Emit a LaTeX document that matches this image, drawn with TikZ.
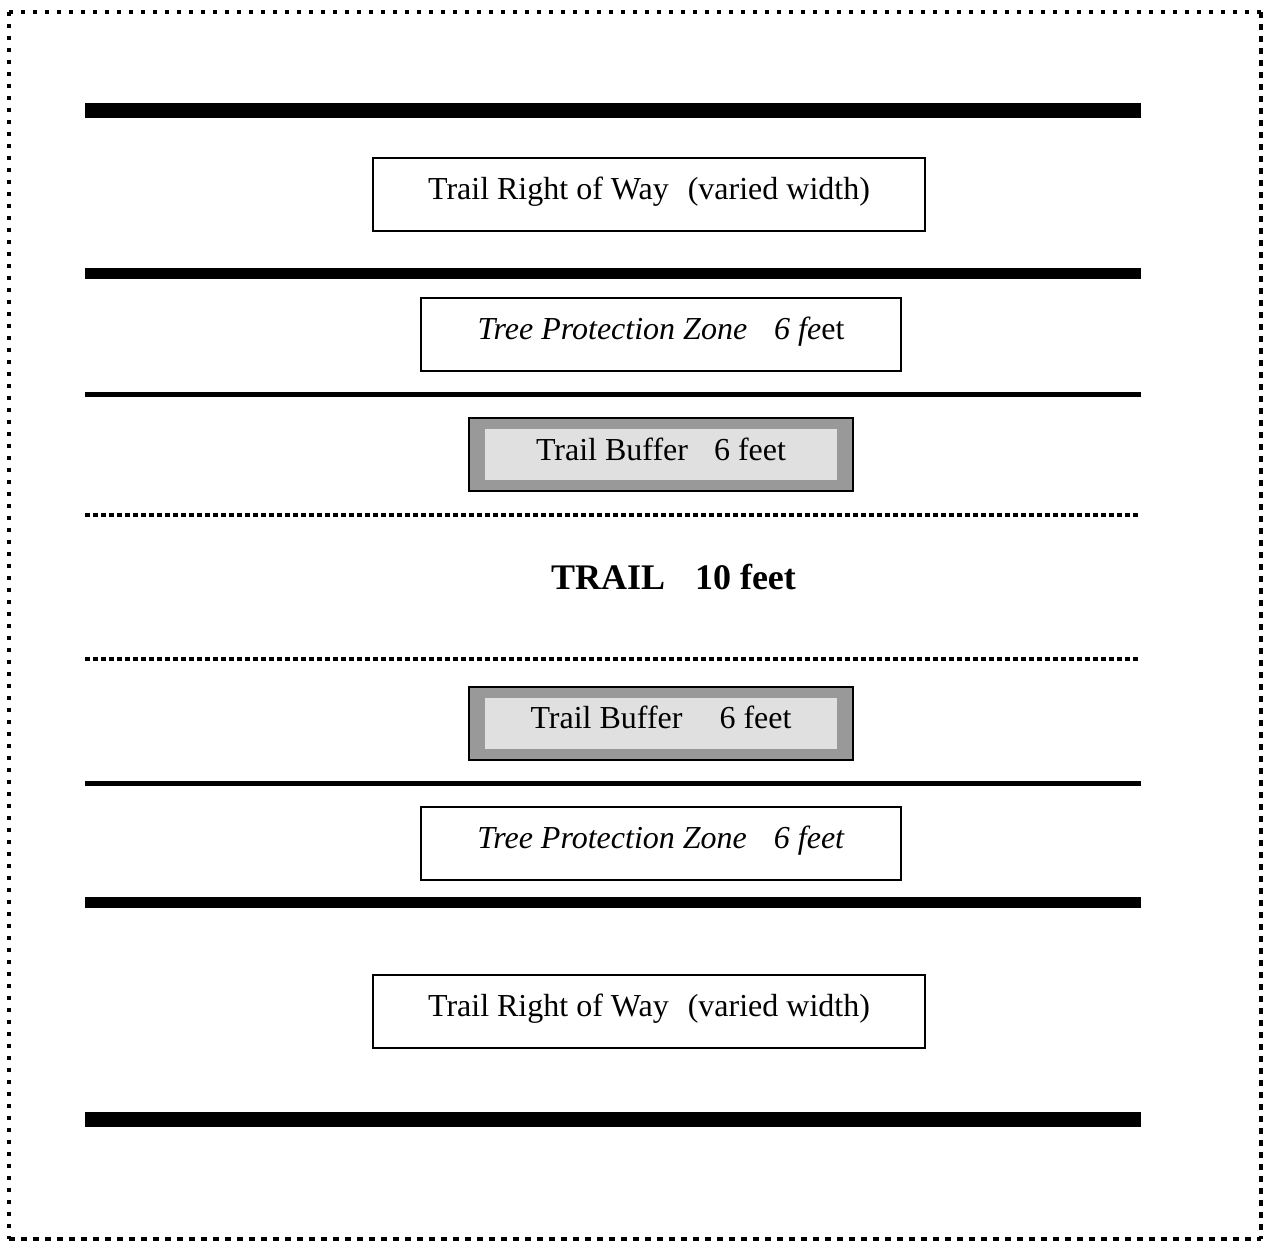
\documentclass[tikz,border=0pt]{standalone}
\usepackage{fontspec}
\setmainfont{Liberation Serif}
\begin{document}
\begin{tikzpicture}[x=0.5pt,y=-0.5pt,
  thickbar/.style={line width=7.5pt},
  medbar/.style={line width=5.5pt},
  thinbar/.style={line width=2.5pt},
  dotbar/.style={line width=2pt,dash pattern=on 2.5pt off 1.5pt},
  zonebox/.style={draw=black,line width=1pt,inner sep=0pt,
    text height=21pt,text depth=15.5pt,minimum height=36.5pt,
    font=\fontsize{16pt}{19pt}\selectfont},
  bufferbox/.style={zonebox,fill=bufouter,minimum width=192pt,
    path picture={\fill[bufinner]
      ([shift={(8pt,-5.5pt)}]path picture bounding box.north west) rectangle
      ([shift={(-8pt,5.5pt)}]path picture bounding box.south east);}},
  traillabel/.style={inner sep=0pt,anchor=base,font=\fontsize{18pt}{21pt}\selectfont\bfseries}
]
\definecolor{bufouter}{HTML}{999999}
\definecolor{bufinner}{HTML}{E0E0E0}
\useasboundingbox (0,0) rectangle (1264,1241);
% frame
\coordinate (ftl) at (9,12);
\coordinate (ftr) at (1261,12);
\coordinate (fbl) at (9,1239);
\coordinate (fbr) at (1261,1239);
\draw[line width=2.2pt,dash pattern=on 2.2pt off 3.8pt] (ftl) -- (ftr);
\draw[line width=2.2pt,dash pattern=on 2.2pt off 3.8pt] (ftl) -- (fbl);
\draw[line width=2pt,dash pattern=on 3pt off 3pt] (ftr) -- (fbr);
\draw[line width=2pt,dash pattern=on 3pt off 3pt] (fbl) -- (fbr);
% horizontal bars
\coordinate (l1a) at (85,111);  \coordinate (l1b) at (1141,111);
\coordinate (l2a) at (85,274);  \coordinate (l2b) at (1141,274);
\coordinate (l3a) at (85,394.5);\coordinate (l3b) at (1141,394.5);
\coordinate (l4a) at (85,514.5);\coordinate (l4b) at (1138,514.5);
\coordinate (l5a) at (85,659);  \coordinate (l5b) at (1138,659);
\coordinate (l6a) at (85,783);  \coordinate (l6b) at (1141,783);
\coordinate (l7a) at (85,902);  \coordinate (l7b) at (1141,902);
\coordinate (l8a) at (85,1119); \coordinate (l8b) at (1141,1119);
\draw[thickbar] (l1a) -- (l1b);
\draw[medbar] (l2a) -- (l2b);
\draw[thinbar] (l3a) -- (l3b);
\draw[dotbar] (l4a) -- (l4b);
\draw[dotbar] (l5a) -- (l5b);
\draw[thinbar] (l6a) -- (l6b);
\draw[medbar] (l7a) -- (l7b);
\draw[thickbar] (l8a) -- (l8b);
% boxes
\node[zonebox,minimum width=276pt] (row1) at (649,194.5)
  {Trail Right of Way\hspace{9.5pt}(varied width)};
\node[zonebox,minimum width=240pt] (tpz1) at (661,334.5)
  {\textit{Tree Protection Zone}\hspace{13.5pt}\textit{6 fe}et};
\node[bufferbox] (buf1) at (661,454.5)
  {Trail Buffer\hspace{13pt}6 feet};
\node[traillabel] (trail) at (673.5,589)
  {TRAIL\hspace{15pt}10 feet};
\node[bufferbox] (buf2) at (661,723)
  {Trail Buffer\hspace{18.5pt}6 feet};
\node[zonebox,minimum width=240pt] (tpz2) at (661,843)
  {\textit{Tree Protection Zone}\hspace{13.5pt}\textit{6 feet}};
\node[zonebox,minimum width=276pt] (row2) at (649,1011)
  {Trail Right of Way\hspace{9.5pt}(varied width)};
\end{tikzpicture}
\end{document}
